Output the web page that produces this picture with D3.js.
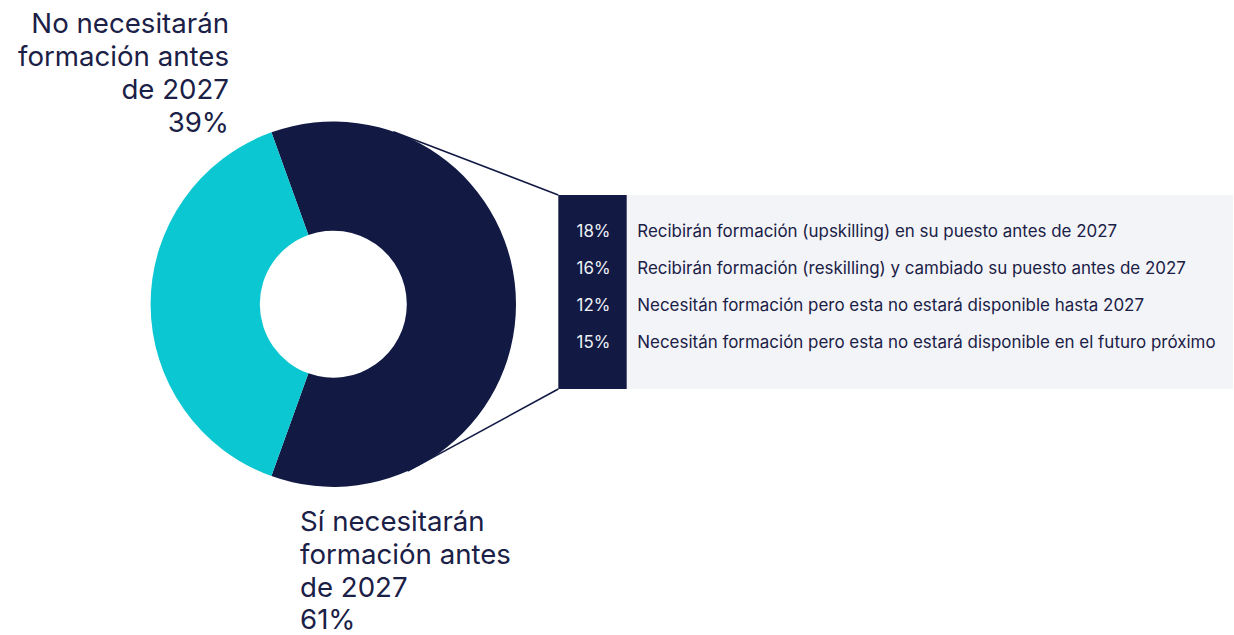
<!DOCTYPE html>
<html>
<head>
<meta charset="utf-8">
<script src="https://cdn.jsdelivr.net/npm/d3@7"></script>
<style>
  html, body { margin: 0; padding: 0; background: #ffffff; }
  svg { display: block; }
  text { font-family: Inter, "Noto Sans", sans-serif; }
</style>
</head>
<body>
<svg id="chart" width="1234" height="635"></svg>
<script>
// Main split of the workforce
const segments = ["Sí necesitarán formación antes de 2027", "No necesitarán formación antes de 2027"];
const segmentValues = [61, 39];
const segmentColors = ["#121a44", "#0bc7d2"];
const noLabelLines = ["No necesitarán", "formación antes", "de 2027", "39%"];
const siLabelLines = ["Sí necesitarán", "formación antes", "de 2027", "61%"];

// Breakdown of the "need training" group
const breakdownLabels = [
  "Recibirán formación (upskilling) en su puesto antes de 2027",
  "Recibirán formación (reskilling) y cambiado su puesto antes de 2027",
  "Necesitán formación pero esta no estará disponible hasta 2027",
  "Necesitán formación pero esta no estará disponible en el futuro próximo"
];
const breakdownValues = [18, 16, 12, 15];

const svg = d3.select("#chart");
const ink = "#1a2046";

// Donut geometry
const cx = 333.3, cy = 304.2, outerR = 182.7, innerR = 73.5;
const gPie = svg.append("g").attr("transform", `translate(${cx},${cy})`);

// The "need training" slice is centred on the right-hand side
const startA = Math.PI / 2 - Math.PI * segmentValues[0] / 100;
const pie = d3.pie().sort(null).value(d => d)
  .startAngle(startA).endAngle(startA + 2 * Math.PI);
const arc = d3.arc().innerRadius(innerR).outerRadius(outerR);

gPie.selectAll("path.slice")
  .data(pie(segmentValues))
  .join("path")
  .attr("class", "slice")
  .attr("d", arc)
  .attr("fill", (d, i) => segmentColors[i]);

// Breakdown panel
const panel = { x: 558.3, y: 195, w: 1233 - 558.3, h: 194, tag: 68.4 };

// Connectors from the donut edge to the panel corners
const connA = [19.2 * Math.PI / 180, 156 * Math.PI / 180];
const edgePt = a => [cx + outerR * Math.sin(a), cy - outerR * Math.cos(a)];
const conn = [
  [edgePt(connA[0]), [panel.x, panel.y]],
  [edgePt(connA[1]), [panel.x, panel.y + panel.h]]
];
svg.selectAll("line.conn")
  .data(conn)
  .join("line")
  .attr("class", "conn")
  .attr("x1", d => d[0][0]).attr("y1", d => d[0][1])
  .attr("x2", d => d[1][0]).attr("y2", d => d[1][1])
  .attr("stroke", "#121a44")
  .attr("stroke-width", 1.6);

svg.append("rect")
  .attr("x", panel.x + panel.tag).attr("y", panel.y)
  .attr("width", panel.w - panel.tag).attr("height", panel.h)
  .attr("fill", "#f3f4f7");
svg.append("rect")
  .attr("x", panel.x).attr("y", panel.y)
  .attr("width", panel.tag).attr("height", panel.h)
  .attr("fill", "#121a44");

// Row positions within the panel
const rowY = d3.scalePoint()
  .domain(d3.range(breakdownValues.length))
  .range([236.5, 348.3]);

const rows = svg.append("g");
const pctSel = rows.selectAll("text.pct")
  .data(breakdownValues)
  .join("text")
  .attr("class", "pct")
  .attr("x", 576.5)
  .attr("y", (d, i) => rowY(i))
  .attr("fill", "#eef0f5")
  .attr("font-size", 15)
  .text(d => d + "%");

const descs = rows.selectAll("text.desc")
  .data(breakdownLabels)
  .join("text")
  .attr("class", "desc")
  .attr("x", 637.3)
  .attr("y", (d, i) => rowY(i))
  .attr("fill", ink)
  .attr("font-size", 15)
  .text(d => d);

// Size the row text so the first description spans its column width
function fitSize(sel, target, base) {
  const w = sel.node().getComputedTextLength();
  return base * target / w;
}
const descSize = fitSize(descs.filter((d, i) => i === 0), 480.5, 15);
descs.attr("font-size", descSize);
pctSel.attr("font-size", descSize);

// Big segment labels
function bigLabel(lines, x, baselines, anchor) {
  const g = svg.append("g");
  const t = g.selectAll("text")
    .data(lines)
    .join("text")
    .attr("x", x)
    .attr("y", (d, i) => baselines[i])
    .attr("text-anchor", anchor)
    .attr("fill", ink)
    .attr("font-size", 26)
    .text(d => d);
  const size = fitSize(t.filter((d, i) => i === 1), 211, 26);
  t.attr("font-size", size);
}
bigLabel(noLabelLines, 229, [32.5, 65.5, 99, 132], "end");
bigLabel(siLabelLines, 300, [530.7, 564, 597, 629], "start");
</script>
</body>
</html>
